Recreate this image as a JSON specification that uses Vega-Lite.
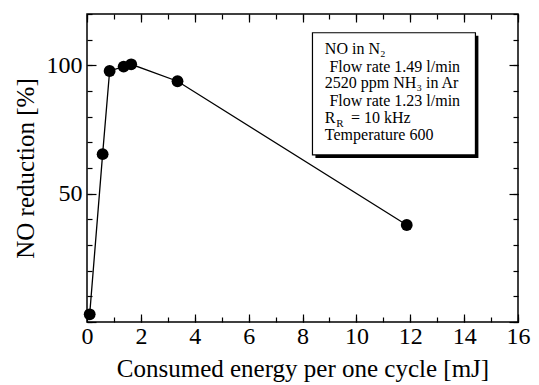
{
  "$schema": "https://vega.github.io/schema/vega-lite/v6.json",
  "width": 431,
  "height": 308,
  "autosize": "none",
  "padding": {"left": 87, "top": 14, "right": 21, "bottom": 63},
  "datasets": {
    "pts": [
      {"energy": 0.1, "reduction": 3.0},
      {"energy": 0.58, "reduction": 65.4},
      {"energy": 0.84, "reduction": 97.8},
      {"energy": 1.36, "reduction": 99.5},
      {"energy": 1.64, "reduction": 100.4},
      {"energy": 3.36, "reduction": 93.8},
      {"energy": 11.87, "reduction": 37.8}
    ],
    "shadow": [{"x1": 8.48, "x2": 14.53, "y1": 63.9, "y2": 111.5}],
    "box": [{"x1": 8.37, "x2": 14.42, "y1": 65.1, "y2": 112.7}],
    "txt": [
      {"t": "NO in N₂", "tx": 8.83, "ty": 104.3},
      {"t": "Flow rate 1.49 l/min", "tx": 9.0, "ty": 97.5},
      {"t": "2520 ppm NH₃ in Ar", "tx": 8.83, "ty": 91.0},
      {"t": "Flow rate 1.23 l/min", "tx": 9.0, "ty": 84.1},
      {"t": "R", "tx": 8.83, "ty": 77.5},
      {"t": "= 10 kHz", "tx": 9.8, "ty": 77.5},
      {"t": "Temperature 600", "tx": 8.83, "ty": 70.9}
    ],
    "sub": [
      {"t": "R", "tx": 9.25, "ty": 76.0}
    ]
  },
  "config": {
    "font": "Liberation Serif",
    "view": {"stroke": "black", "strokeWidth": 1.5},
    "axis": {
      "labelFont": "Liberation Serif",
      "titleFont": "Liberation Serif",
      "labelFontSize": 24,
      "titleFontSize": 25,
      "titleFontWeight": "normal",
      "labelColor": "black",
      "titleColor": "black",
      "tickColor": "black",
      "tickWidth": 1.2,
      "domain": false,
      "grid": false,
      "labelFlush": false,
      "title": null
    }
  },
  "resolve": {"axis": {"x": "independent", "y": "independent"}},
  "layer": [
    {
      "data": {"name": "shadow"},
      "mark": {"type": "rect", "color": "black"},
      "encoding": {
        "x": {"field": "x1", "type": "quantitative", "axis": {"orient": "top", "offset": -308, "values": [0,2,4,6,8,10,12,14,16], "labels": false, "tickSize": 8, "title": null}},
        "x2": {"field": "x2"},
        "y": {"field": "y1", "type": "quantitative", "axis": {"orient": "right", "offset": -431, "values": [0,50,100], "labels": false, "tickSize": 9, "title": null}},
        "y2": {"field": "y2"}
      }
    },
    {
      "data": {"name": "box"},
      "mark": {"type": "rect", "fill": "white", "stroke": "black", "strokeWidth": 1.2},
      "encoding": {
        "x": {"field": "x1", "type": "quantitative", "axis": {"orient": "top", "offset": -308, "values": [0,1,2,3,4,5,6,7,8,9,10,11,12,13,14,15,16], "labels": false, "tickSize": 5, "title": null}},
        "x2": {"field": "x2"},
        "y": {"field": "y1", "type": "quantitative", "axis": {"orient": "right", "offset": -431, "values": [0,10,20,30,40,50,60,70,80,90,100,110,120], "labels": false, "tickSize": 5, "title": null}},
        "y2": {"field": "y2"}
      }
    },
    {
      "data": {"name": "pts"},
      "mark": {"type": "line", "color": "black", "strokeWidth": 1.3},
      "encoding": {
        "x": {"field": "energy", "type": "quantitative", "scale": {"domain": [0, 16], "nice": false}, "axis": {"orient": "bottom", "offset": -308, "values": [0,2,4,6,8,10,12,14,16], "labels": false, "tickSize": 8, "title": null}},
        "y": {"field": "reduction", "type": "quantitative", "scale": {"domain": [0, 120], "nice": false}, "axis": {"orient": "left", "offset": -431, "values": [0,50,100], "labels": false, "tickSize": 9, "title": null}}
      }
    },
    {
      "data": {"name": "pts"},
      "mark": {"type": "point", "filled": true, "color": "black", "size": 140, "opacity": 1},
      "encoding": {
        "x": {"field": "energy", "type": "quantitative", "axis": {"orient": "bottom", "offset": -308, "values": [0,1,2,3,4,5,6,7,8,9,10,11,12,13,14,15,16], "labels": false, "tickSize": 5, "title": null}},
        "y": {"field": "reduction", "type": "quantitative", "axis": {"orient": "left", "offset": -431, "values": [0,10,20,30,40,50,60,70,80,90,100,110,120], "labels": false, "tickSize": 5, "title": null}}
      }
    },
    {
      "data": {"name": "txt"},
      "mark": {"type": "text", "align": "left", "baseline": "alphabetic", "font": "Liberation Serif", "fontSize": 16, "color": "black"},
      "encoding": {
        "x": {"field": "tx", "type": "quantitative", "axis": {"orient": "bottom", "values": [0,2,4,6,8,10,12,14,16], "ticks": false, "labelPadding": 2, "title": "Consumed energy per one cycle [mJ]", "titlePadding": 8}},
        "y": {"field": "ty", "type": "quantitative", "axis": {"orient": "left", "values": [50,100], "ticks": false, "labelPadding": 5, "title": "NO reduction [%]", "titlePadding": 8}},
        "text": {"field": "t"}
      }
    },
    {
      "data": {"name": "sub"},
      "mark": {"type": "text", "align": "left", "baseline": "alphabetic", "font": "Liberation Serif", "fontSize": 11, "color": "black"},
      "encoding": {
        "x": {"field": "tx", "type": "quantitative", "axis": null},
        "y": {"field": "ty", "type": "quantitative", "axis": null},
        "text": {"field": "t"}
      }
    }
  ]
}
